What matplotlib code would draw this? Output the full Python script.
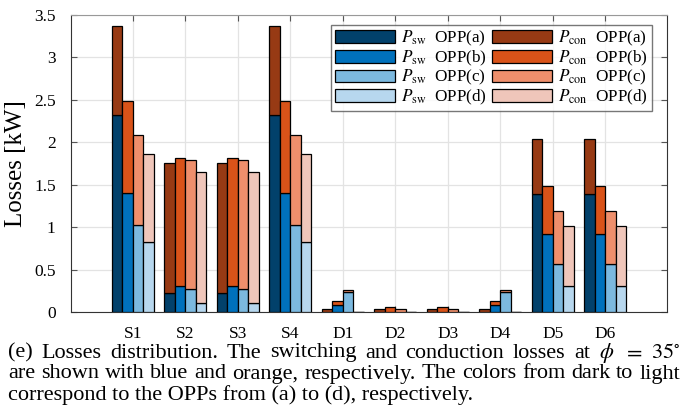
import numpy as np
import matplotlib
matplotlib.use("Agg")
import matplotlib.pyplot as plt

plt.rcParams['font.family'] = ['Liberation Serif', 'DejaVu Serif']
plt.rcParams['mathtext.fontset'] = 'stix'

devices = ["S1", "S2", "S3", "S4", "D1", "D2", "D3", "D4", "D5", "D6"]
opps = ["a", "b", "c", "d"]

# switching losses [kW], one list per OPP
p_sw_a = [2.32, 0.22, 0.22, 2.32, 0.00, 0.00, 0.00, 0.00, 1.39, 1.39]
p_sw_b = [1.40, 0.31, 0.31, 1.40, 0.08, 0.00, 0.00, 0.08, 0.92, 0.92]
p_sw_c = [1.02, 0.27, 0.27, 1.02, 0.23, 0.00, 0.00, 0.23, 0.57, 0.57]
p_sw_d = [0.83, 0.11, 0.11, 0.83, 0.00, 0.00, 0.00, 0.00, 0.31, 0.31]

# conduction losses [kW]
p_con_a = [1.05, 1.53, 1.53, 1.05, 0.03, 0.03, 0.03, 0.03, 0.65, 0.65]
p_con_b = [1.09, 1.50, 1.50, 1.09, 0.05, 0.06, 0.06, 0.05, 0.56, 0.56]
p_con_c = [1.07, 1.52, 1.52, 1.07, 0.03, 0.04, 0.04, 0.03, 0.62, 0.62]
p_con_d = [1.03, 1.54, 1.54, 1.03, 0.00, 0.00, 0.00, 0.00, 0.70, 0.70]

p_sw = [p_sw_a, p_sw_b, p_sw_c, p_sw_d]
p_con = [p_con_a, p_con_b, p_con_c, p_con_d]

blues = ["#02416b", "#0071bc", "#7cb9df", "#b7d7ee"]
oranges = ["#973a14", "#d95319", "#ee8f6c", "#efc6ba"]

caption = [
    r"(e) Losses distribution. The switching and conduction losses at $\phi$ $=$ $35^{\circ}$",
    "are shown with blue and orange, respectively. The colors from dark to light",
    "correspond to the OPPs from (a) to (d), respectively.",
]

fig = plt.figure(figsize=(6.89, 4.16), dpi=100)
ax = fig.add_axes([0.103, 0.25, 0.865, 0.714])

x = np.arange(1, len(devices) + 1)
width = 0.2
offsets = [-0.3, -0.1, 0.1, 0.3]

sw_handles, con_handles = [], []
for k in range(4):
    sw = np.array(p_sw[k])
    con = np.array(p_con[k])
    hs = ax.bar(x + offsets[k], sw, width, color=blues[k], edgecolor="black",
                linewidth=0.9, zorder=3)
    hc = ax.bar(x + offsets[k], con, width, bottom=sw, color=oranges[k],
                edgecolor="black", linewidth=0.9, zorder=3)
    sw_handles.append(hs)
    con_handles.append(hc)

ax.set_xlim(1 - 1.18, len(devices) + 1.18)
ax.set_ylim(0, 3.5)
ax.set_xticks(x)
ax.set_xticklabels(devices)
ax.set_yticks(np.arange(0, 3.51, 0.5))
ax.set_yticklabels(["0", "0.5", "1", "1.5", "2", "2.5", "3", "3.5"])
ax.tick_params(direction="in", top=True, right=True, length=4, labelsize=12.5,
               color="#555555")
ax.tick_params(axis="x", pad=10)
ax.tick_params(axis="y", pad=11)
ax.grid(True, color="#e3e3e3", linewidth=0.9, zorder=0)
ax.set_axisbelow(True)
for side in ["left", "bottom", "right"]:
    ax.spines[side].set_color("#333333")
ax.spines["top"].set_color("#999999")
ax.set_ylabel("Losses [kW]", fontsize=18, labelpad=5)

labels = [r"$P_{\rm sw}$  OPP(%s)" % o for o in opps] + \
         [r"$P_{\rm con}$  OPP(%s)" % o for o in opps]
leg = ax.legend(sw_handles + con_handles, labels, ncol=2, loc="upper right",
                bbox_to_anchor=(0.975, 0.967), fontsize=12.3, frameon=True,
                fancybox=False, edgecolor="#555555", handlelength=3.5,
                handleheight=0.75, labelspacing=0.02, columnspacing=0.3,
                handletextpad=0.35, borderpad=0.25, borderaxespad=0)
leg.get_frame().set_linewidth(1.0)

# caption, justified between x0 and x1 except for the last line
x0, x1 = 8, 680
y_lines = [353, 374, 395]
fig_w, fig_h = fig.get_size_inches() * fig.dpi
renderer = fig.canvas.get_renderer()
for i, line in enumerate(caption):
    y = 1 - y_lines[i] / fig_h
    if i == len(caption) - 1:
        fig.text(x0 / fig_w, y, line, fontsize=16, ha="left", va="center")
        continue
    words = line.split(" ")
    texts = [fig.text(0, y, w, fontsize=16, ha="left", va="center") for w in words]
    widths = [t.get_window_extent(renderer).width for t in texts]
    gap = (x1 - x0 - sum(widths)) / (len(words) - 1)
    pos = x0
    for t, w in zip(texts, widths):
        t.set_x(pos / fig_w)
        pos += w + gap

fig.savefig("out.png", dpi=100)
